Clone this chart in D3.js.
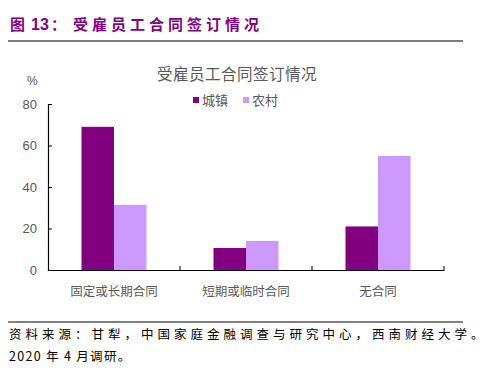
<!DOCTYPE html>
<html>
<head>
<meta charset="utf-8">
<script src="https://cdn.jsdelivr.net/npm/d3@7"></script>
<style>
  body { margin: 0; background: #fff; }
  text { font-family: "Noto Sans CJK SC", "Noto Sans", sans-serif; }
</style>
</head>
<body>
<div id="chart"></div>
<script>
// Data
const categories = ["固定或长期合同", "短期或临时合同", "无合同"];
const seriesNames = ["城镇", "农村"];
const cityValues = [69, 10.6, 21];
const ruralValues = [31.4, 14, 55];
const yTicks = [0, 20, 40, 60, 80];
const colors = ["#800080", "#CC99FF"];

const W = 495, H = 376;
const svg = d3.select("#chart").append("svg")
    .attr("width", W)
    .attr("height", H);

// Header
const header = svg.append("text")
    .attr("y", 30)
    .attr("font-size", 15)
    .attr("font-weight", "bold")
    .attr("fill", "#800080");
header.append("tspan").attr("x", 10).text("图");
header.append("tspan").attr("x", 31)
    .style("font-family", "Arial, 'Liberation Sans', sans-serif")
    .attr("font-size", 16)
    .text("13");
header.append("tspan").attr("x", 51).text("：");
header.append("tspan").attr("x", 73).attr("letter-spacing", 4).text("受雇员工合同签订情况");

svg.append("line")
    .attr("x1", 8).attr("x2", 463)
    .attr("y1", 41).attr("y2", 41)
    .attr("stroke", "#000")
    .attr("stroke-width", 1.2);

// Plot area
const margin = {left: 48, top: 104, right: 444, bottom: 270};

const x0 = d3.scaleBand()
    .domain(categories)
    .range([margin.left, margin.right]);

const x1 = d3.scaleBand()
    .domain(seriesNames)
    .range([0, 65]);

const y = d3.scaleLinear()
    .domain([0, 80])
    .range([margin.bottom, margin.top]);

const rows = categories.map((c, i) => ({cat: c, vals: [cityValues[i], ruralValues[i]]}));

// Bars
const groups = svg.append("g").selectAll("g")
    .data(rows)
    .join("g")
    .attr("transform", d => "translate(" + (x0(d.cat) + (x0.bandwidth() - 65) / 2) + ",0)");

groups.selectAll("rect")
    .data(d => d.vals.map((v, j) => ({name: seriesNames[j], v: v, j: j})))
    .join("rect")
    .attr("x", d => x1(d.name))
    .attr("width", x1.bandwidth())
    .attr("y", d => y(d.v))
    .attr("height", d => y(0) - y(d.v))
    .attr("fill", d => colors[d.j]);

// Y axis
const yAxis = svg.append("g")
    .attr("transform", "translate(" + margin.left + ",0)")
    .call(d3.axisRight(y).tickValues(yTicks).tickSize(4).tickFormat(d3.format("d")));
yAxis.select(".domain").attr("stroke", "#000").attr("stroke-width", 1.2);
yAxis.selectAll(".tick line").attr("stroke", "#000");
yAxis.selectAll(".tick text")
    .attr("x", -11)
    .attr("text-anchor", "end")
    .attr("font-size", 13)
    .attr("fill", "#595959")
    .style("font-family", "Arial, 'Liberation Sans', sans-serif");

// X axis
const xAxis = svg.append("g")
    .attr("transform", "translate(0," + margin.bottom + ")")
    .call(d3.axisTop(x0).tickSize(0).tickFormat(""));
xAxis.select(".domain").attr("stroke", "#000").attr("stroke-width", 1.2);
xAxis.selectAll(".tick").remove();

// tick marks between categories
svg.append("g").selectAll("line")
    .data(d3.range(1, categories.length + 1))
    .join("line")
    .attr("x1", i => margin.left + i * x0.step())
    .attr("x2", i => margin.left + i * x0.step())
    .attr("y1", margin.bottom)
    .attr("y2", margin.bottom - 4)
    .attr("stroke", "#000");

svg.append("g").selectAll("text")
    .data(categories)
    .join("text")
    .attr("x", d => x0(d) + x0.bandwidth() / 2)
    .attr("y", 296)
    .attr("text-anchor", "middle")
    .attr("font-size", 12.5)
    .attr("fill", "#595959")
    .text(d => d);

// Unit
svg.append("text")
    .attr("x", 27)
    .attr("y", 85)
    .attr("font-size", 12)
    .attr("fill", "#595959")
    .style("font-family", "Arial, 'Liberation Sans', sans-serif")
    .text("%");

// Chart title
svg.append("text")
    .attr("x", 237)
    .attr("y", 80)
    .attr("text-anchor", "middle")
    .attr("font-size", 15.5)
    .attr("letter-spacing", 0.5)
    .attr("fill", "#595959")
    .text("受雇员工合同签订情况");

// Legend
const legendX = [193, 243];
seriesNames.forEach((name, i) => {
    svg.append("rect")
        .attr("x", legendX[i])
        .attr("y", 97)
        .attr("width", 6)
        .attr("height", 6)
        .attr("fill", colors[i]);
    svg.append("text")
        .attr("x", legendX[i] + 9)
        .attr("y", 105)
        .attr("font-size", 13)
        .attr("fill", "#595959")
        .text(name);
});

// Source
svg.append("line")
    .attr("x1", 8).attr("x2", 463)
    .attr("y1", 322).attr("y2", 322)
    .attr("stroke", "#000")
    .attr("stroke-width", 1.2);

svg.append("text")
    .attr("x", 9)
    .attr("y", 339)
    .attr("font-size", 12.5)
    .attr("letter-spacing", 4)
    .attr("fill", "#000")
    .text("资料来源：甘犁，中国家庭金融调查与研究中心，西南财经大学。");

svg.append("text")
    .attr("x", 9)
    .attr("y", 361)
    .attr("font-size", 12.5)
    .attr("letter-spacing", 1.3)
    .attr("fill", "#000")
    .text("2020 年 4 月调研。");
</script>
</body>
</html>
